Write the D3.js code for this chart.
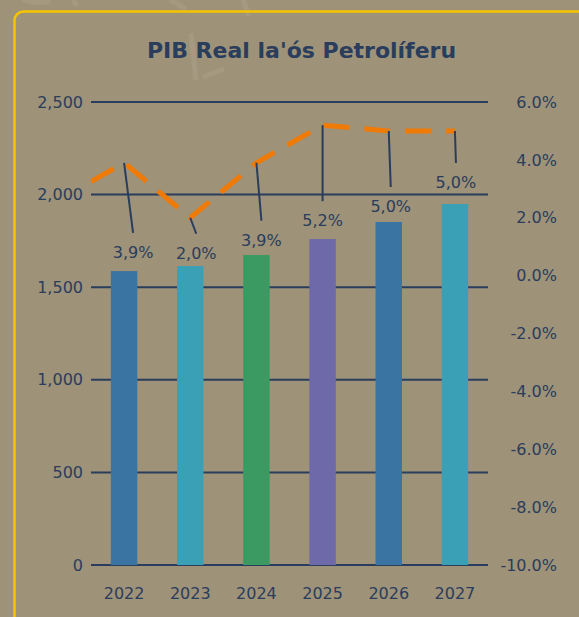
<!DOCTYPE html>
<html>
<head>
<meta charset="utf-8">
<script src="https://cdn.jsdelivr.net/npm/d3@7"></script>
<style>
  html, body { margin: 0; padding: 0; background: #9e9279; }
  #chart { width: 579px; height: 617px; }
  text { font-family: "DejaVu Sans", sans-serif; }
</style>
</head>
<body>
<div id="chart"></div>
<script>
// data
const years = ["2022", "2023", "2024", "2025", "2026", "2027"];
const gdpValues = [1587, 1614, 1674, 1760, 1852, 1949];
const growthValues = [3.9, 2.0, 3.9, 5.2, 5.0, 5.0];
const priorGrowth = 2.6; // 2021, only the tail of it is visible
const barColors = ["#3a74a3", "#3aa0b6", "#3a9a62", "#6e69a9", "#3a74a3", "#3aa0b6"];
const leftTicks = [0, 500, 1000, 1500, 2000, 2500];
const rightTicks = [-10, -8, -6, -4, -2, 0, 2, 4, 6];

// label placement (offset of each % label from its point)
const labelDx = [9, 6, 5, 0, 2, 1];
const labelDy = [89, 35, 77, 95, 75, 51];

const width = 579, height = 617;
const margin = { top: 102, right: 91, bottom: 52, left: 91 };
const navy = "#2a3d5c";

const svg = d3.select("#chart").append("svg")
  .attr("width", width)
  .attr("height", height);

svg.append("rect")
  .attr("width", width)
  .attr("height", height)
  .attr("fill", "#9e9279");

// faint background strokes
const deco = svg.append("g")
  .attr("stroke", "#a59a81")
  .attr("stroke-width", 5)
  .attr("fill", "none");
deco.append("path").attr("d", "M22,-1 Q36,5 50,1");
deco.append("path").attr("d", "M73,0 L77,6");
deco.append("path").attr("d", "M170,0 L186,9");
deco.append("path").attr("d", "M191,33 L196,80");
deco.append("path").attr("d", "M203,77 L224,69");
deco.append("path").attr("d", "M243,0 L249,16");

// yellow panel border
svg.append("rect")
  .attr("x", 14.5)
  .attr("y", 11.5)
  .attr("width", 640)
  .attr("height", 680)
  .attr("rx", 9)
  .attr("fill", "none")
  .attr("stroke", "#f6c500")
  .attr("stroke-width", 2.5);

svg.append("text")
  .attr("x", 301.5)
  .attr("y", 58)
  .attr("text-anchor", "middle")
  .attr("fill", navy)
  .attr("font-size", 22)
  .attr("font-weight", "bold")
  .text("PIB Real la'ós Petrolíferu");

const plotW = width - margin.left - margin.right;
const plotH = height - margin.top - margin.bottom;
const x0 = margin.left, y0 = margin.top;

const x = d3.scaleBand()
  .domain(years)
  .range([x0, x0 + plotW])
  .paddingInner(0.6)
  .paddingOuter(0.3);

const y = d3.scaleLinear()
  .domain([0, 2500])
  .range([y0 + plotH, y0]);

const y2 = d3.scaleLinear()
  .domain([-10, 6])
  .range([y0 + plotH, y0]);

// gridlines
svg.append("g")
  .selectAll("line")
  .data(leftTicks)
  .join("line")
  .attr("x1", x0)
  .attr("x2", x0 + plotW)
  .attr("y1", d => y(d))
  .attr("y2", d => y(d))
  .attr("stroke", navy)
  .attr("stroke-width", 2);

// left axis labels
const leftAxis = svg.append("g")
  .attr("transform", `translate(${x0 - 8},0)`)
  .call(d3.axisLeft(y).tickValues(leftTicks).tickSize(0).tickPadding(0).tickFormat(d3.format(",")));
leftAxis.select(".domain").remove();
leftAxis.selectAll("text")
  .attr("fill", navy)
  .attr("font-size", 16)
  .attr("font-family", "DejaVu Sans, sans-serif");

// right axis labels (plain hyphen for negatives)
const pctFmt = d => d3.format(".1f")(d).replace("\u2212", "-") + "%";
const rightAxis = svg.append("g")
  .attr("transform", `translate(${x0 + plotW},0)`)
  .call(d3.axisRight(y2).tickValues(rightTicks).tickSize(0).tickFormat(pctFmt));
rightAxis.select(".domain").remove();
rightAxis.selectAll("text")
  .attr("x", 557 - (x0 + plotW))
  .attr("text-anchor", "end")
  .attr("fill", navy)
  .attr("font-size", 16)
  .attr("font-family", "DejaVu Sans, sans-serif");

// bottom axis labels
const bottomAxis = svg.append("g")
  .attr("transform", `translate(0,${y0 + plotH})`)
  .call(d3.axisBottom(x).tickSize(0).tickPadding(23));
bottomAxis.select(".domain").remove();
bottomAxis.selectAll("text")
  .attr("fill", navy)
  .attr("font-size", 16)
  .attr("font-family", "DejaVu Sans, sans-serif");

// bars
svg.append("g")
  .selectAll("rect")
  .data(years)
  .join("rect")
  .attr("x", d => x(d))
  .attr("y", (d, i) => y(gdpValues[i]))
  .attr("width", x.bandwidth())
  .attr("height", (d, i) => y(0) - y(gdpValues[i]))
  .attr("fill", (d, i) => barColors[i]);

// growth line
const cx = d => x(d) + x.bandwidth() / 2;
const pts = years.map((d, i) => [cx(d), y2(growthValues[i])]);
const prevX = cx(years[0]) - x.step();
const linePts = [[prevX, y2(priorGrowth)]].concat(pts);

svg.append("clipPath")
  .attr("id", "plot-clip")
  .append("rect")
  .attr("x", x0)
  .attr("y", 0)
  .attr("width", plotW)
  .attr("height", height);

// start the dash pattern at the plot edge
const p0 = linePts[0], p1 = linePts[1];
const hiddenLen = Math.hypot(p1[0] - p0[0], p1[1] - p0[1]) * (x0 - p0[0]) / (p1[0] - p0[0]);

svg.append("path")
  .datum(linePts)
  .attr("clip-path", "url(#plot-clip)")
  .attr("fill", "none")
  .attr("stroke", "#f07a06")
  .attr("stroke-width", 5)
  .attr("stroke-dasharray", "26,15")
  .attr("stroke-dashoffset", -hiddenLen)
  .attr("d", d3.line());

// leader lines + labels
const labels = svg.append("g");
years.forEach((d, i) => {
  const [px, py] = pts[i];
  const lx = px + labelDx[i];
  const ly = py + labelDy[i];
  labels.append("line")
    .attr("x1", px)
    .attr("y1", py)
    .attr("x2", lx)
    .attr("y2", ly - 19)
    .attr("stroke", navy)
    .attr("stroke-width", 2);
  labels.append("text")
    .attr("x", lx)
    .attr("y", ly + 6)
    .attr("text-anchor", "middle")
    .attr("fill", navy)
    .attr("font-size", 16)
    .text(d3.format(".1f")(growthValues[i]).replace(".", ",") + "%");
});
</script>
</body>
</html>
